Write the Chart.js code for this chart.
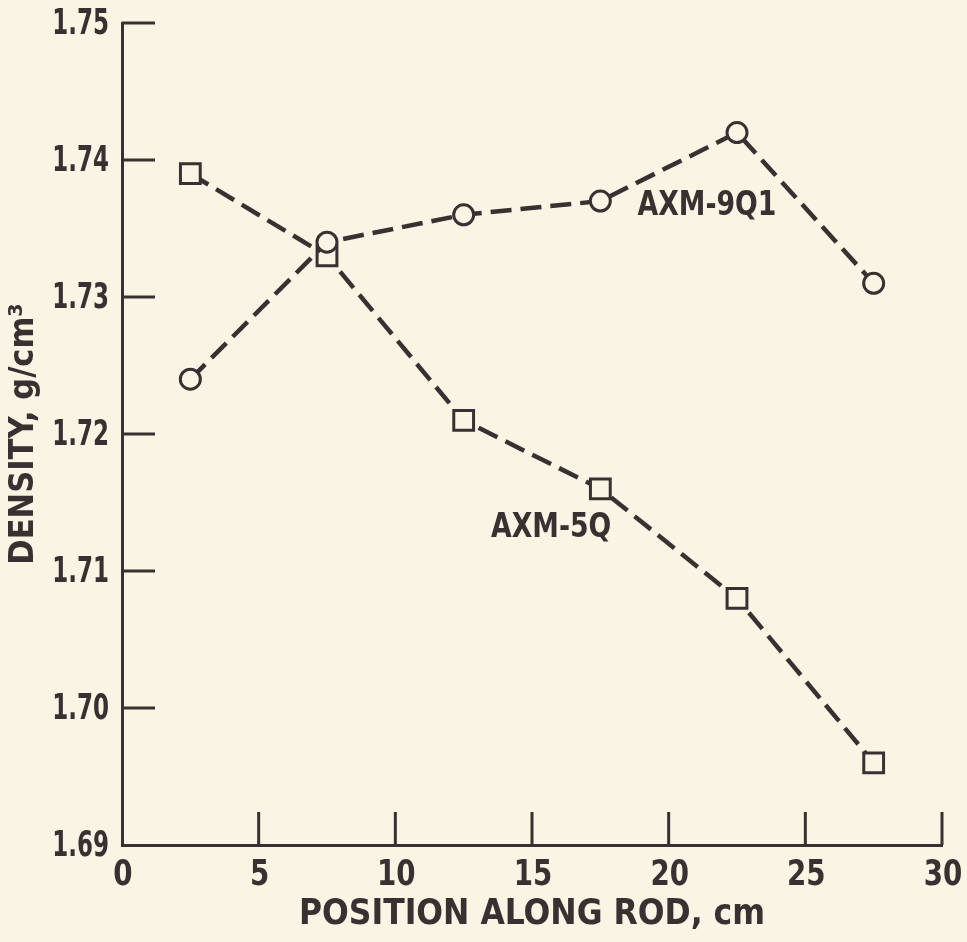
<!DOCTYPE html>
<html>
<head>
<meta charset="utf-8">
<script src="https://cdn.jsdelivr.net/npm/chart.js@4/dist/chart.umd.min.js"></script>
<style>
  html, body { margin: 0; padding: 0; background: #f9f4e3; }
  #chart { display: block; }
</style>
</head>
<body>
<canvas id="chart" width="967" height="942"></canvas>
<script>
// positions along the rod (cm)
const positions = [2.5, 7.5, 12.5, 17.5, 22.5, 27.5];
// densities, g/cm3
const axm9q1 = [1.724, 1.734, 1.736, 1.737, 1.742, 1.731];
const axm5q = [1.739, 1.733, 1.721, 1.716, 1.708, 1.696];

const xTicks = [0, 5, 10, 15, 20, 25, 30];
const yTicks = [1.69, 1.70, 1.71, 1.72, 1.73, 1.74, 1.75];

const seriesNames = ['AXM-9Q1', 'AXM-5Q'];
const labelSpots = [[21.4, 1.7366], [15.7, 1.7131]];

const ink = '#383131';
const paper = '#f9f4e3';
const fontFamily = "'DejaVu Sans Condensed', 'DejaVu Sans', sans-serif";

function toPoints(ys) {
    return positions.map((x, i) => ({ x: x, y: ys[i] }));
}

// the printed type is narrower than any installed face, so squeeze it a bit
function squeezed(ctx, text, x, y, align, sx) {
    ctx.save();
    ctx.translate(x, y);
    ctx.scale(sx, 1);
    ctx.textAlign = align;
    ctx.textBaseline = 'middle';
    ctx.fillText(text, 0, 0);
    ctx.restore();
}

// inward ticks, tick labels and series names
const extras = {
    id: 'extras',
    afterDraw(chart) {
        const ctx = chart.ctx;
        const xs = chart.scales.x;
        const ys = chart.scales.y;
        const area = chart.chartArea;
        ctx.save();
        ctx.strokeStyle = ink;
        ctx.lineWidth = 3;
        xTicks.slice(1).forEach(v => {
            const px = xs.getPixelForValue(v);
            ctx.beginPath();
            ctx.moveTo(px, area.bottom);
            ctx.lineTo(px, area.bottom - 33);
            ctx.stroke();
        });
        yTicks.slice(1).forEach(v => {
            const py = ys.getPixelForValue(v);
            ctx.beginPath();
            ctx.moveTo(area.left, py);
            ctx.lineTo(area.left + 33, py);
            ctx.stroke();
        });

        ctx.fillStyle = ink;
        ctx.font = 'bold 35px ' + fontFamily;
        xs.ticks.forEach(t => {
            squeezed(ctx, String(t.value), xs.getPixelForValue(t.value) + 1, area.bottom + 31, 'center', 0.88);
        });
        ys.ticks.forEach(t => {
            squeezed(ctx, t.value.toFixed(2), area.left - 13, ys.getPixelForValue(t.value) + 2, 'right', 0.73);
        });

        ctx.font = 'bold 33px ' + fontFamily;
        seriesNames.forEach((name, i) => {
            squeezed(ctx, name, xs.getPixelForValue(labelSpots[i][0]), ys.getPixelForValue(labelSpots[i][1]), 'center', 0.9);
        });
        ctx.restore();
    }
};

const ctx = document.getElementById('chart').getContext('2d');
const myChart = new Chart(ctx, {
    type: 'line',
    data: {
        datasets: [{
            label: seriesNames[0],
            data: toPoints(axm9q1),
            borderColor: ink,
            borderWidth: 4.5,
            borderDash: [21, 9],
            pointStyle: 'circle',
            pointRadius: 10,
            pointBorderWidth: 3,
            pointBorderColor: ink,
            pointBackgroundColor: paper
        }, {
            label: seriesNames[1],
            data: toPoints(axm5q),
            borderColor: ink,
            borderWidth: 4.5,
            borderDash: [21, 9],
            pointStyle: 'rect',
            pointRadius: 14,
            pointBorderWidth: 3,
            pointBorderColor: ink,
            pointBackgroundColor: paper
        }]
    },
    options: {
        responsive: false,
        animation: false,
        layout: { padding: { top: 23, right: 25, left: 0, bottom: 0 } },
        plugins: {
            legend: { display: false },
            tooltip: { enabled: false }
        },
        scales: {
            x: {
                type: 'linear',
                min: 0,
                max: 30,
                afterBuildTicks: s => { s.ticks = xTicks.map(v => ({ value: v })); },
                afterFit: s => { s.height = 97; },
                grid: { display: false, drawTicks: false },
                border: { display: true, color: ink, width: 3 },
                ticks: { display: false },
                title: {
                    display: true,
                    text: 'POSITION ALONG ROD, cm',
                    color: ink,
                    padding: { top: 0, bottom: 6 },
                    font: { family: fontFamily, size: 35, weight: 'bold' }
                }
            },
            y: {
                min: 1.69,
                max: 1.75,
                afterBuildTicks: s => { s.ticks = yTicks.map(v => ({ value: v })); },
                afterFit: s => { s.width = 122; },
                grid: { display: false, drawTicks: false },
                border: { display: true, color: ink, width: 3 },
                ticks: { display: false },
                title: {
                    display: true,
                    text: 'DENSITY, g/cm\u00b3',
                    color: ink,
                    padding: { top: 4, bottom: 0 },
                    font: { family: fontFamily, size: 34, weight: 'bold' }
                }
            }
        }
    },
    plugins: [extras]
});
</script>
</body>
</html>
